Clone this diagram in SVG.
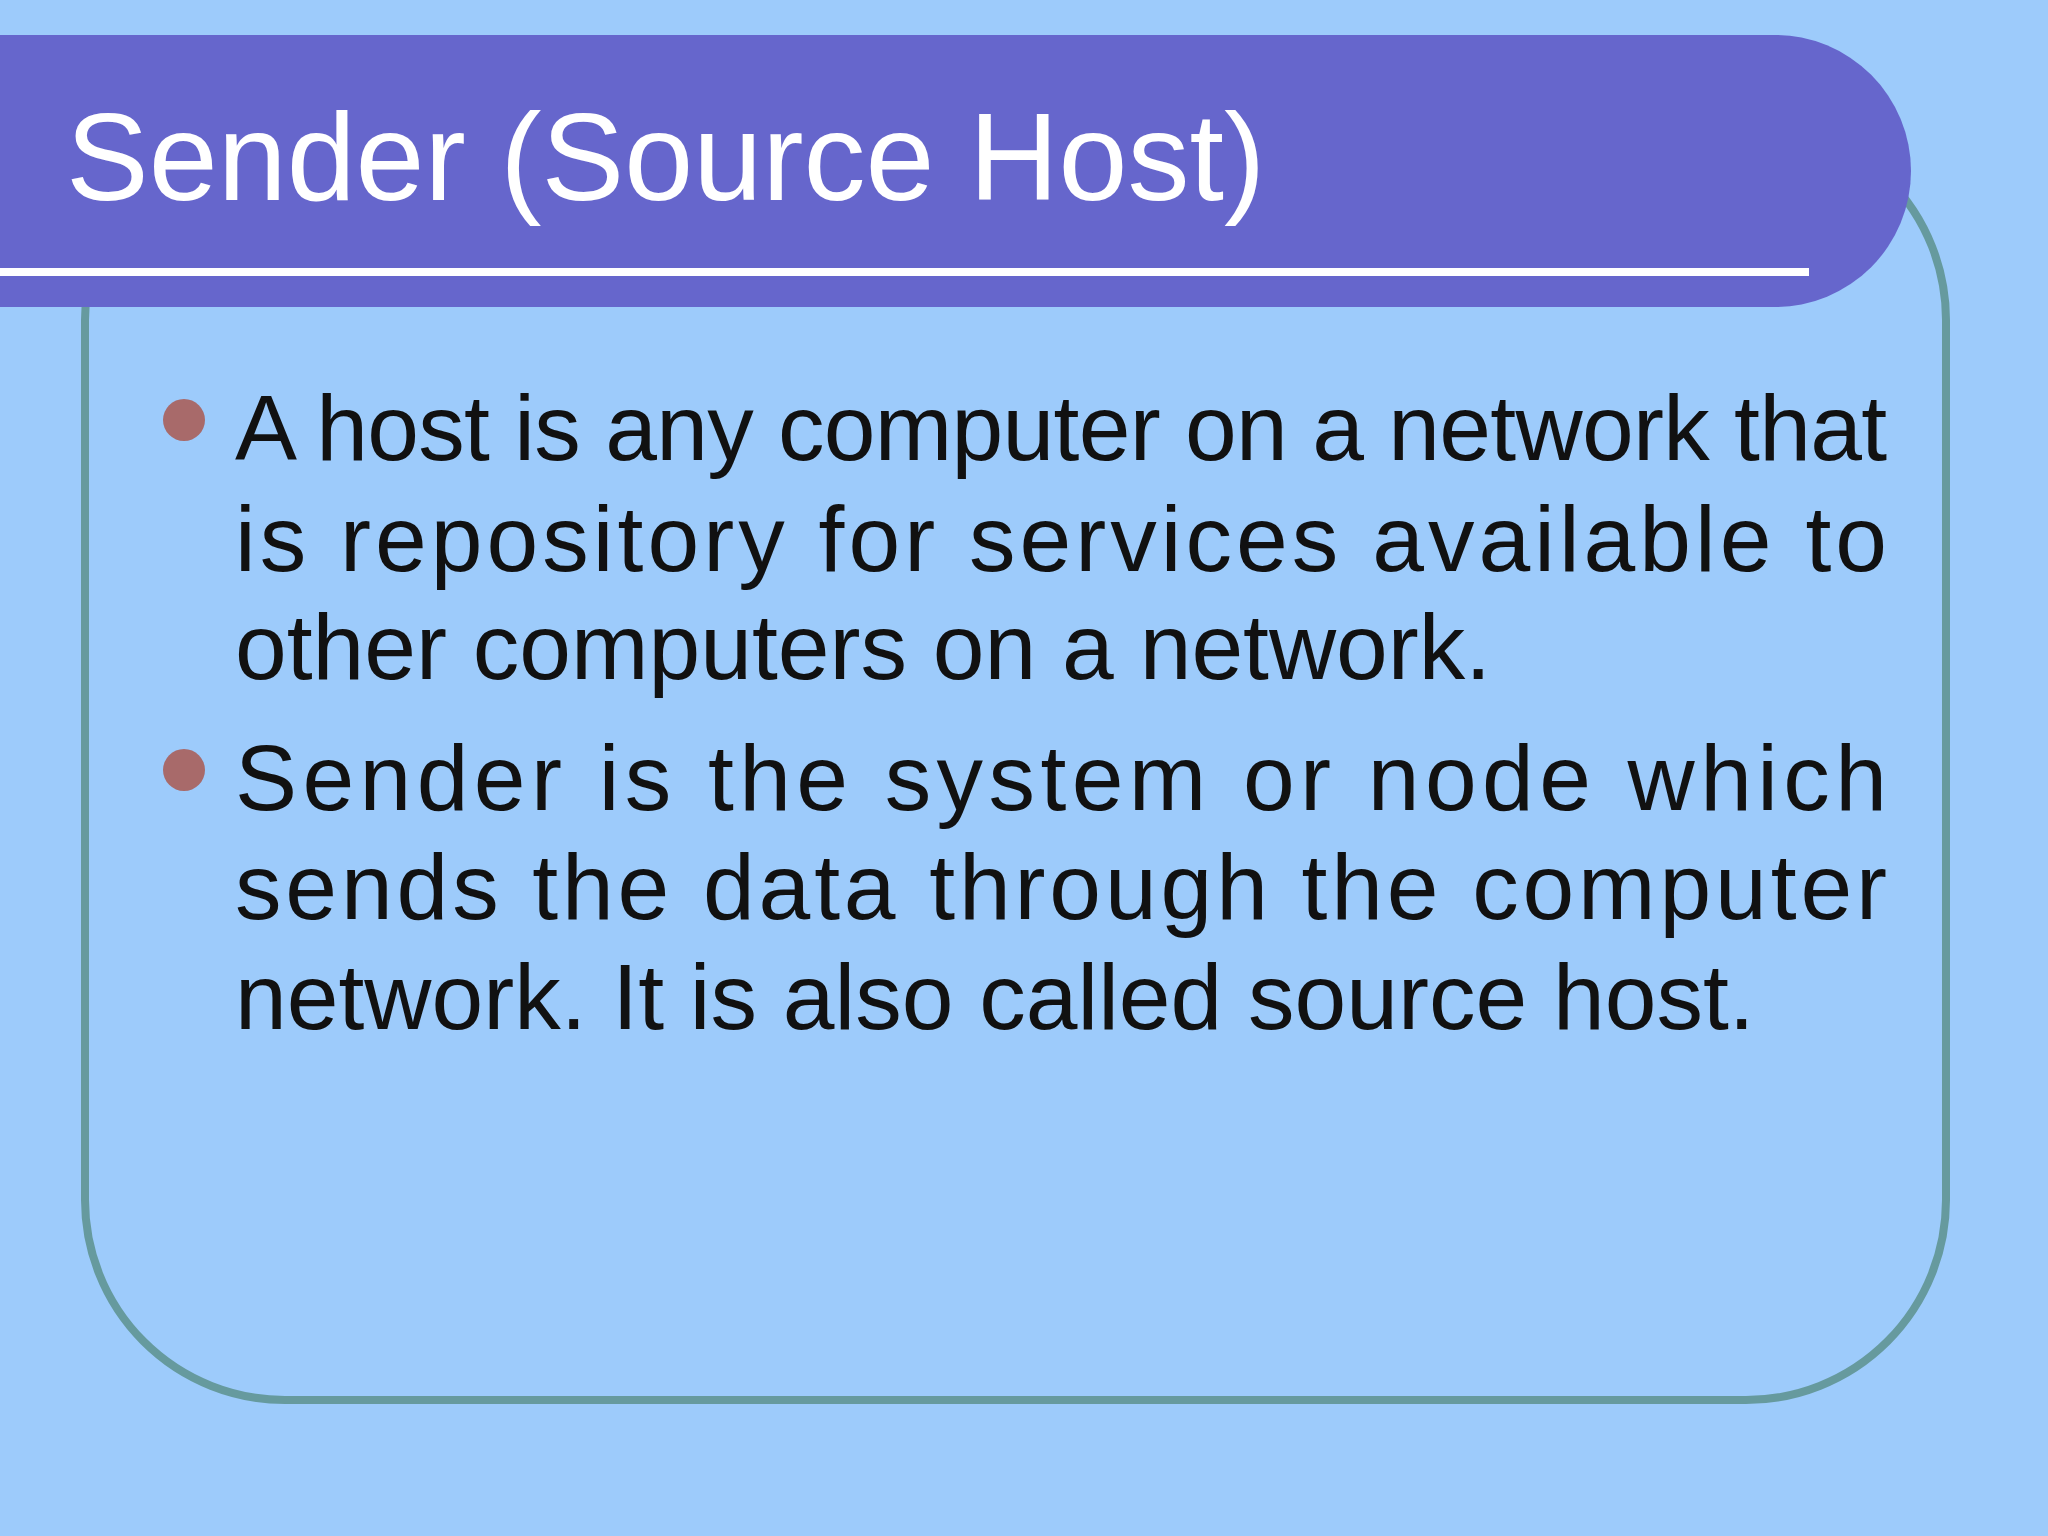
<svg xmlns="http://www.w3.org/2000/svg" width="2048" height="1536" viewBox="0 0 2048 1536">
<style>
.b{font-family:"Liberation Sans",Arial,sans-serif;font-size:93px;fill:#111}
</style>
<rect width="2048" height="1536" fill="#9DCBFB"/>
<g id="frame"><rect x="85" y="120" width="1861" height="1280" rx="200" fill="none" stroke="#669A9E" stroke-width="8"/></g>
<g id="title">
<path d="M0 35 H1775 A136 136 0 0 1 1775 307 H0 Z" fill="#6666CC"/>
<rect x="0" y="268" width="1809" height="8" fill="#fff"/>
<text x="66" y="200" font-family="'Liberation Sans',Arial,sans-serif" font-size="124" fill="#fff">Sender (Source Host)</text>
</g>
<g id="bullets">
<circle cx="184" cy="420" r="21" fill="#A86A6A"/>
<circle cx="184" cy="770" r="21" fill="#A86A6A"/>
<text class="b" x="235" y="460" textLength="1652" lengthAdjust="spacing">A host is any computer on a network that</text>
<text class="b" x="235" y="571" textLength="1652" lengthAdjust="spacing">is repository for services available to</text>
<text class="b" x="235" y="679">other computers on a network.</text>
<text class="b" x="235" y="810" textLength="1652" lengthAdjust="spacing">Sender is the system or node which</text>
<text class="b" x="235" y="919" textLength="1652" lengthAdjust="spacing">sends the data through the computer</text>
<text class="b" x="235" y="1029">network. It is also called source host.</text>
</g>
</svg>
